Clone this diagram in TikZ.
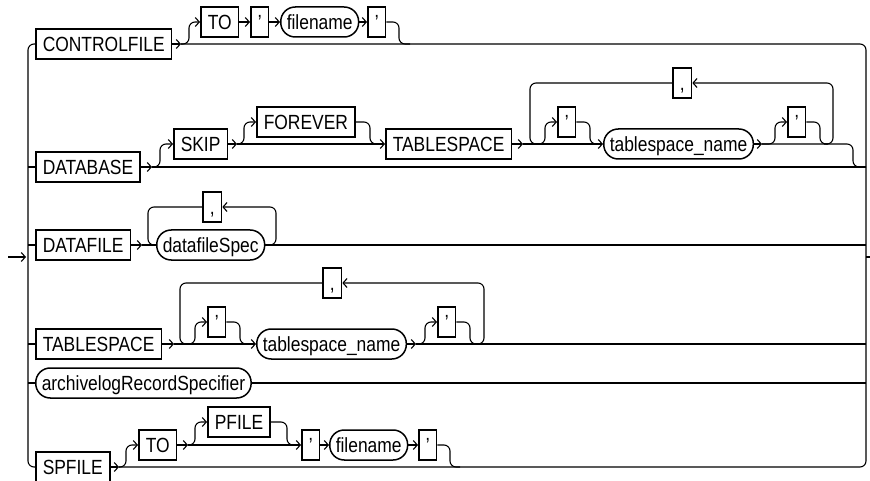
\documentclass[tikz,border=0pt]{standalone}
\usepackage{fontspec}
\setmainfont{Liberation Sans}[FakeStretch=0.85]
\usetikzlibrary{arrows.meta}
\tikzset{
  kw/.style={draw, line width=1.5pt, rectangle, minimum height=30pt, inner xsep=7pt, inner ysep=2pt,
    text height=18.7pt, text depth=4pt, anchor=west, font=\fontsize{20.5}{21}\selectfont},
  nt/.style={kw, rounded corners=14.5pt, inner xsep=6pt},
  ln/.style={line width=1.1pt, rounded corners=6pt},
  ar/.style={ln, -{Straight Barb[length=4pt,width=9pt]}},
}
\begin{document}
\begin{tikzpicture}[x=1pt,y=-1pt]
\useasboundingbox (0,0) rectangle (870,481);
% spine coordinates
\coordinate (LT) at (28,44);
\coordinate (LB) at (28,467);
\coordinate (RT) at (866,44);
\coordinate (RB) at (866,467);
\coordinate (in0) at (8,257);
\coordinate (in1) at (26,257);
\coordinate (out0) at (866,257);
\coordinate (out1) at (870,257);

% ---------- Row 1: CONTROLFILE ----------
\node[kw] (cf) at (35,44) {CONTROLFILE};
\node[kw] (to1) at (200,22) {TO};
\node[kw] (q1a) at (250,22) {’};
\node[nt] (fn1) at (280,22) {filename};
\node[kw] (q1b) at (367,22) {’};
\coordinate (cfa) at (181,44);
\draw[ar] (cf.east) -- (cfa);
\draw[ar] (cfa) -- (189,44) -- (189,22) -- (to1.west);
\draw[ar] (to1.east) -- (q1a.west);
\draw[ar] (q1a.east) -- (fn1.west);
\draw[ar] (fn1.east) -- (q1b.west);
\draw[ln] (q1b.east) -- (399,22) -- (399,44) -- (410,44);

% ---------- Row 2: DATABASE ----------
\coordinate (L2) at (28,167);
\coordinate (R2) at (866,167);
\node[kw] (db) at (35,167) {DATABASE};
\node[kw] (skip) at (173,144) {SKIP};
\node[kw] (fe) at (256,122) {FOREVER};
\node[kw] (ts1) at (385,144) {TABLESPACE};
\node[kw] (cm1) at (672,83) {,};
\node[kw] (q2a) at (557,122) {’};
\node[nt] (tsn1) at (603,144) {tablespace\_name};
\node[kw] (q2b) at (787,122) {’};
\draw[ln] (L2) -- (db.west);
\coordinate (dba) at (152,167);
\draw[ar] (db.east) -- (dba);
\draw[ln] (dba) -- (R2);
\draw[ar] (dba) -- (160,167) -- (160,144) -- (skip.west);
\coordinate (ska) at (237,144);
\draw[ar] (skip.east) -- (ska);
\draw[ar] (ska) -- (244,144) -- (244,122) -- (fe.west);
\draw[ar] (ska) -- (ts1.west);
\draw[ln] (fe.east) -- (370,122) -- (370,144) -- (380,144);
\coordinate (tsa) at (523,144);
\draw[ar] (ts1.east) -- (tsa);
\draw[ln] (cm1.west) -- (530,83) -- (530,144) -- (540,144);
\draw[ar] (tsa) -- (tsn1.west);
\draw[ar] (536,144) -- (545,144) -- (545,122) -- (q2a.west);
\draw[ln] (q2a.east) -- (590,122) -- (590,144) -- (598,144);
\coordinate (tna) at (762,144);
\draw[ar] (tsn1.east) -- (tna);
\draw[ar] (tna) -- (775,144) -- (775,122) -- (q2b.west);
\draw[ln] (q2b.east) -- (820,122) -- (820,144) -- (828,144);
\draw[ar] (824,144) -- (833,144) -- (833,83) -- (cm1.east);
\draw[ln] (tna) -- (853,144) -- (853,167) -- (R2);

% ---------- Row 3: DATAFILE ----------
\coordinate (L3) at (28,245);
\coordinate (R3) at (866,245);
\node[kw] (df) at (35,245) {DATAFILE};
\node[nt] (dsp) at (156,245) {datafileSpec};
\node[kw] (cm2) at (202,207) {,};
\draw[ln] (L3) -- (df.west);
\coordinate (dfa) at (142,245);
\draw[ar] (df.east) -- (dfa);
\draw[ln] (dfa) -- (dsp.west);
\draw[ln] (cm2.west) -- (148,207) -- (148,245) -- (156,245);
\draw[ar] (dsp.east) -- (276,245) -- (276,207) -- (cm2.east);
\draw[ln] (dsp.east) -- (R3);

% ---------- Row 4: TABLESPACE ----------
\coordinate (L4) at (28,344);
\coordinate (R4) at (866,344);
\node[kw] (ts2) at (35,344) {TABLESPACE};
\node[kw] (cm3) at (322,283) {,};
\node[kw] (q3a) at (207,322) {’};
\node[nt] (tsn2) at (256,344) {tablespace\_name};
\node[kw] (q3b) at (437,322) {’};
\draw[ln] (L4) -- (ts2.west);
\coordinate (ts2a) at (174,344);
\draw[ar] (ts2.east) -- (ts2a);
\draw[ln] (cm3.west) -- (180,283) -- (180,344) -- (190,344);
\draw[ar] (186,344) -- (195,344) -- (195,322) -- (q3a.west);
\draw[ln] (q3a.east) -- (240,322) -- (240,344) -- (248,344);
\draw[ar] (ts2a) -- (tsn2.west);
\coordinate (tn2a) at (416,344);
\draw[ar] (tsn2.east) -- (tn2a);
\draw[ar] (tn2a) -- (425,344) -- (425,322) -- (q3b.west);
\draw[ln] (q3b.east) -- (470,322) -- (470,344) -- (478,344);
\draw[ar] (476,344) -- (484,344) -- (484,283) -- (cm3.east);
\draw[ln] (tn2a) -- (R4);

% ---------- Row 5 ----------
\coordinate (L5) at (28,383);
\coordinate (R5) at (866,383);
\node[nt] (arc) at (35,383) {archivelogRecordSpecifier};
\draw[ln] (L5) -- (arc.west);
\draw[ln] (arc.east) -- (R5);

% ---------- Row 6: SPFILE ----------
\node[kw] (sp) at (35,467) {SPFILE};
\node[kw] (to2) at (138,445) {TO};
\node[kw] (pf) at (207,422) {PFILE};
\node[kw] (q4a) at (301,445) {’};
\node[nt] (fn2) at (329,445) {filename};
\node[kw] (q4b) at (418,445) {’};
\coordinate (spa) at (119,467);
\draw[ar] (sp.east) -- (spa);
\draw[ar] (spa) -- (126,467) -- (126,445) -- (to2.west);
\coordinate (to2a) at (188,445);
\draw[ar] (to2.east) -- (to2a);
\draw[ar] (to2a) -- (195,445) -- (195,422) -- (pf.west);
\draw[ar] (to2a) -- (q4a.west);
\draw[ln] (pf.east) -- (287,422) -- (287,445) -- (296,445);
\draw[ar] (q4a.east) -- (fn2.west);
\draw[ar] (fn2.east) -- (q4b.west);
\draw[ln] (q4b.east) -- (450,445) -- (450,467) -- (460,467);

% ---------- spines ----------
\draw[ln] (cf.west) -- (LT) -- (LB) -- (sp.west);
\draw[ln] (cfa) -- (RT) -- (RB) -- (spa);
\draw[ar] (in0) -- (in1);
\draw[line width=1.1pt] (out0) -- (out1);
\end{tikzpicture}
\end{document}
